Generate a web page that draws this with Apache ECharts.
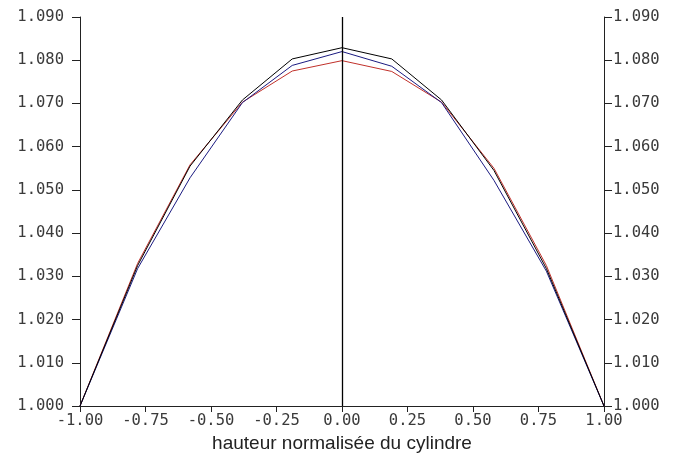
<!DOCTYPE html>
<html>
<head>
<meta charset="utf-8">
<script src="https://cdn.jsdelivr.net/npm/echarts@6/dist/echarts.min.js"></script>
<style>html,body{margin:0;padding:0;background:#fff;}#c{width:673px;height:476px;}</style>
</head>
<body>
<div id="c"></div>
<script>
const xPositions = [-1, -0.78, -0.58, -0.38, -0.19, 0, 0.19, 0.38, 0.58, 0.78, 1];
const blackValues = [1.000, 1.0325, 1.0555, 1.0708, 1.0803, 1.0829, 1.0803, 1.0708, 1.0545, 1.0318, 1.000];
const redValues   = [1.000, 1.0330, 1.0558, 1.0703, 1.0775, 1.0799, 1.0774, 1.0703, 1.0550, 1.0325, 1.000];
const blueValues  = [1.000, 1.0318, 1.0528, 1.0702, 1.0788, 1.0820, 1.0786, 1.0702, 1.0522, 1.0312, 1.000];
const xTitle = 'hauteur normalisée du cylindre';

const pairs = v => xPositions.map((x, i) => [x, v[i]]);
const mono = 'DejaVu Sans Mono';
const axisCol = '#222';
const labelCol = '#3a3a3a';

function yAxisDef(pos, margin) {
  return {
    type: 'value', position: pos, min: 1.0, max: 1.09, interval: 0.01,
    axisLine: { show: true, onZero: false, lineStyle: { color: axisCol, width: 1 } },
    axisTick: { show: true, length: 8, lineStyle: { color: axisCol } },
    splitLine: { show: false },
    axisLabel: { fontFamily: mono, fontSize: 15.5, color: labelCol, margin: margin,
      formatter: v => v.toFixed(3) }
  };
}

const chart = echarts.init(document.getElementById('c'));
chart.setOption({
  animation: false,
  backgroundColor: '#fff',
  grid: { left: 80, right: 69, top: 17, bottom: 70 },
  xAxis: {
    type: 'value', min: -1, max: 1, interval: 0.25,
    name: xTitle, nameLocation: 'middle', nameGap: 25,
    nameTextStyle: { fontFamily: 'Liberation Sans', fontSize: 19, color: '#222' },
    axisLine: { show: true, onZero: false, lineStyle: { color: axisCol } },
    axisTick: { show: true, length: 6, lineStyle: { color: axisCol } },
    splitLine: { show: false },
    axisLabel: { fontFamily: mono, fontSize: 15.5, color: labelCol, margin: 7,
      formatter: v => v.toFixed(2) }
  },
  yAxis: [ yAxisDef('left', 16), yAxisDef('right', 9) ],
  series: [
    { type: 'line', data: pairs(redValues), symbol: 'none',
      lineStyle: { color: '#c0302a', width: 1 },
      markLine: { silent: true, symbol: 'none', label: { show: false },
        lineStyle: { color: '#000', width: 1.3, type: 'solid' },
        data: [{ xAxis: 0 }] } },
    { type: 'line', data: pairs(blueValues), symbol: 'none',
      lineStyle: { color: '#1a1a80', width: 1 } },
    { type: 'line', data: pairs(blackValues), symbol: 'none',
      lineStyle: { color: '#000', width: 1 } }
  ]
});
</script>
</body>
</html>
